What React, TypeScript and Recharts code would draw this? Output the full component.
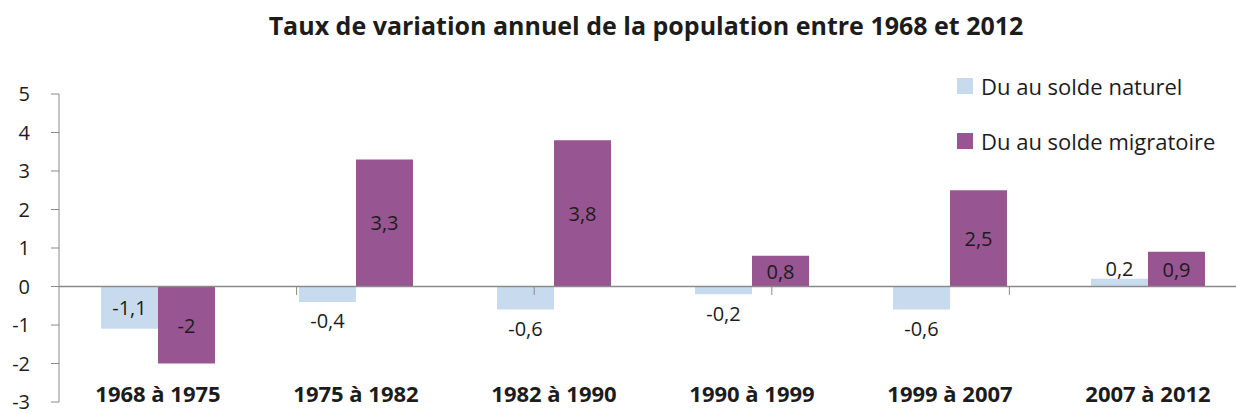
import { Bar, BarChart, LabelList, ReferenceLine, XAxis, YAxis } from "recharts";

const categories = ["1968 à 1975", "1975 à 1982", "1982 à 1990", "1990 à 1999", "1999 à 2007", "2007 à 2012"];
const naturalValues = [-1.1, -0.4, -0.6, -0.2, -0.6, 0.2];
const migratoryValues = [-2, 3.3, 3.8, 0.8, 2.5, 0.9];
const yTicks = [-3, -2, -1, 0, 1, 2, 3, 4, 5];

const seriesNames = ["Du au solde naturel", "Du au solde migratoire"];
const seriesColors = ["#c8daed", "#975591"];

const FONT = "'Open Sans', 'DejaVu Sans', sans-serif";
const TEXT = "#1c1c1c";
const AXIS = "#8a8a8a";

const rows = categories.map((label, i) => ({
  label,
  naturel: naturalValues[i],
  migratoire: migratoryValues[i],
}));

// boundaries between categories, on a hidden numeric axis
const boundaries = categories.slice(1).map((_, i) => i + 1);

const fmt = (v: number) => String(v).replace(".", ",");

const naturalLabel = (props: any) => {
  const { x, y, width, height, value } = props;
  const v = Number(value);
  const top = Math.min(y, y + height);
  const bottom = Math.max(y, y + height);
  let cy = (top + bottom) / 2;
  if (Math.abs(v) < 1) cy = v < 0 ? bottom + 19 : top - 10;
  return (
    <text x={x + width / 2} y={cy} textAnchor="middle" dominantBaseline="central" fill={TEXT} fontSize={20} fontFamily={FONT}>
      {fmt(v)}
    </text>
  );
};

const migratoryLabel = (props: any) => {
  const { x, y, width, height, value } = props;
  const top = Math.min(y, y + height);
  const bottom = Math.max(y, y + height);
  return (
    <text x={x + width / 2} y={(top + bottom) / 2} textAnchor="middle" dominantBaseline="central" fill={TEXT} fontSize={20} fontFamily={FONT}>
      {fmt(Number(value))}
    </text>
  );
};

const CategoryTick = (props: any) => {
  const { x, y, payload } = props;
  return (
    <text x={x} y={y} textAnchor="middle" fill={TEXT} fontSize={22} fontWeight={700} fontFamily={FONT}>
      {payload.value}
    </text>
  );
};

export default function App() {
  return (
    <div
      style={{
        position: "absolute",
        left: 0,
        top: 0,
        width: 1236,
        height: 414,
        overflow: "hidden",
        background: "#fff",
        fontFamily: FONT,
      }}
    >
      <div
        style={{
          position: "absolute",
          left: 0,
          width: 1292,
          top: 8,
          textAlign: "center",
          fontSize: 25,
          fontWeight: 700,
          color: TEXT,
          whiteSpace: "nowrap",
        }}
      >
        Taux de variation annuel de la population entre 1968 et 2012
      </div>

      <div style={{ position: "absolute", left: 957, top: 74, color: TEXT, fontSize: 22 }}>
        {seriesNames.map((name, i) => (
          <div key={name} style={{ display: "flex", alignItems: "center", height: 24, marginBottom: 31, whiteSpace: "nowrap" }}>
            <span style={{ width: 16, height: 16, background: seriesColors[i], marginRight: 8, display: "inline-block", flex: "none" }} />
            {name}
          </div>
        ))}
      </div>

      <BarChart
        width={1250}
        height={414}
        data={rows}
        margin={{ top: 94, right: 3, bottom: 0, left: 0 }}
        barGap={0}
      >
        <XAxis
          dataKey="label"
          axisLine={false}
          tickLine={false}
          tickSize={0}
          tickMargin={0}
          height={12}
          interval={0}
          tick={CategoryTick}
        />
        <XAxis xAxisId="grid" type="number" domain={[0, categories.length]} hide />
        <YAxis
          domain={[-3, 5]}
          ticks={yTicks}
          interval={0}
          width={59}
          axisLine={{ stroke: AXIS }}
          tickLine={{ stroke: AXIS }}
          tickSize={8}
          tickMargin={21}
          tick={{ fill: TEXT, fontSize: 20, fontFamily: FONT }}
        />
        <ReferenceLine y={0} stroke={AXIS} strokeWidth={1.3} />
        {boundaries.map((b) => (
          <ReferenceLine
            key={b}
            xAxisId="grid"
            segment={[
              { x: b, y: 0 },
              { x: b, y: -0.22 },
            ]}
            stroke={AXIS}
          />
        ))}
        <Bar dataKey="naturel" name={seriesNames[0]} fill={seriesColors[0]} barSize={57} isAnimationActive={false}>
          <LabelList dataKey="naturel" content={naturalLabel} />
        </Bar>
        <Bar dataKey="migratoire" name={seriesNames[1]} fill={seriesColors[1]} barSize={57} isAnimationActive={false}>
          <LabelList dataKey="migratoire" content={migratoryLabel} />
        </Bar>
      </BarChart>
    </div>
  );
}
